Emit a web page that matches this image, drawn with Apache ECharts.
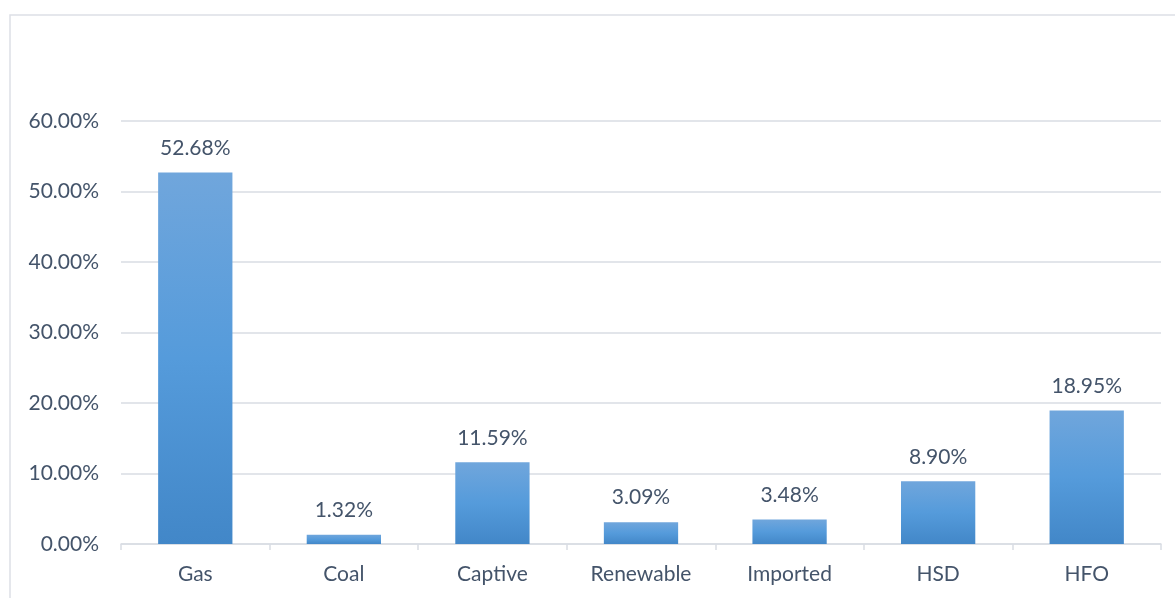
<!DOCTYPE html>
<html>
<head>
<meta charset="utf-8">
<script src="https://cdn.jsdelivr.net/npm/echarts@6/dist/echarts.min.js"></script>
<style>
  html, body { margin: 0; padding: 0; background: #ffffff; }
  #chart { width: 1175px; height: 598px; }
</style>
</head>
<body>
<div id="chart"></div>
<script>
// Share of generation by fuel source (%)
const categories = ['Gas', 'Coal', 'Captive', 'Renewable', 'Imported', 'HSD', 'HFO'];
const shares = [52.68, 1.32, 11.59, 3.09, 3.48, 8.90, 18.95];
const yTicks = [0, 10, 20, 30, 40, 50, 60];

const textColor = '#44546a';
const gridColor = '#d9dde3';
const fontFamily = 'Lato, "Open Sans", sans-serif';
const fontSize = 21;

const chart = echarts.init(document.getElementById('chart'), null, { renderer: 'canvas' });

chart.setOption({
  backgroundColor: '#ffffff',
  animation: false,
  graphic: [{
    type: 'rect',
    shape: { x: 10, y: 15, width: 1200, height: 620 },
    style: { fill: 'none', stroke: '#dde0e6', lineWidth: 1.5 },
    silent: true
  }],
  grid: { left: 121, right: 14, top: 121, bottom: 54, containLabel: false },
  xAxis: {
    type: 'category',
    data: categories,
    axisLine: { lineStyle: { color: gridColor, width: 1.5 } },
    axisTick: { show: true, length: 6, lineStyle: { color: gridColor, width: 1.5 } },
    axisLabel: { color: textColor, fontSize: fontSize, fontFamily: fontFamily, margin: 20 }
  },
  yAxis: {
    type: 'value',
    min: yTicks[0],
    max: yTicks[yTicks.length - 1],
    interval: 10,
    axisLine: { show: false },
    axisTick: { show: false },
    splitLine: { lineStyle: { color: gridColor, width: 1.5 } },
    axisLabel: {
      color: textColor, fontSize: fontSize, fontFamily: fontFamily, margin: 22,
      formatter: v => v.toFixed(2) + '%'
    }
  },
  series: [{
    type: 'bar',
    data: shares,
    barWidth: '50%',
    itemStyle: {
      color: new echarts.graphic.LinearGradient(0, 0, 0, 1, [
        { offset: 0, color: '#70a6dc' },
        { offset: 0.5, color: '#559bdb' },
        { offset: 1, color: '#4287c8' }
      ])
    },
    label: {
      show: true,
      position: 'top',
      distance: 14,
      color: textColor,
      fontSize: fontSize,
      fontFamily: fontFamily,
      formatter: p => p.value.toFixed(2) + '%'
    }
  }]
});
</script>
</body>
</html>
